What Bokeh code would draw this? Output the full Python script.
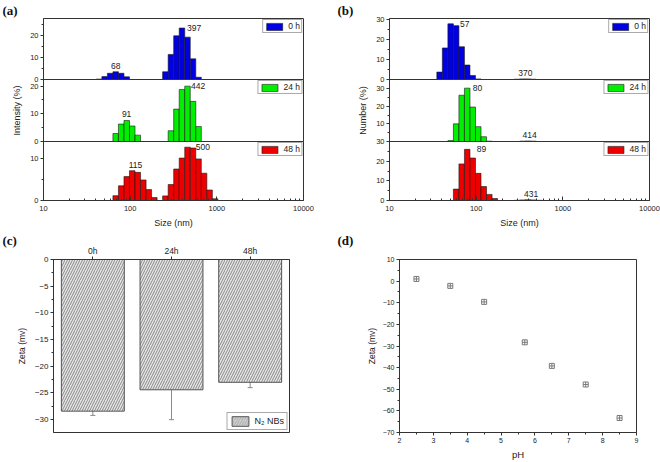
import math
from bokeh.plotting import figure
from bokeh.models import (FixedTicker, PrintfTickFormatter, Legend, LegendItem,
                          Range1d, FactorRange, Whisker, ColumnDataSource,
                          SingleIntervalTicker)
from bokeh.layouts import column, row
from bokeh.embed import file_html
from bokeh.resources import INLINE
from bokeh.core.properties import value

# ---------------- data ----------------
# (a) Intensity distributions, size classes in nm
a_0h_size = [43.82, 50.75, 58.77, 68.06, 78.82, 91.28, 255.0, 295.3, 342.0, 396.1, 458.7, 531.2, 615.1]
a_0h_val = [0.2, 1.3, 2.8, 3.5, 2.8, 1.2, 3.5, 11.3, 19.7, 23.2, 19.1, 9.3, 1.0]
a_24h_size = [68.06, 78.82, 91.28, 105.7, 122.4, 295.3, 342.0, 396.1, 458.7, 531.2, 615.1]
a_24h_val = [2.9, 6.3, 7.6, 5.6, 2.3, 3.9, 11.7, 18.8, 20.0, 14.5, 5.4]
a_48h_size = [68.06, 78.82, 91.28, 105.7, 122.4, 141.8, 164.2, 190.1,
              255.0, 295.3, 342.0, 396.1, 458.7, 531.2, 615.1, 712.4, 825.0, 955.4]
a_48h_val = [1.15, 3.5, 5.7, 7.1, 6.7, 4.9, 2.6, 0.7,
             1.1, 3.8, 7.5, 10.1, 12.7, 12.5, 9.9, 6.5, 2.5, 0.4]

# (b) Number distributions
b_0h_size = [37.84, 43.82, 50.75, 58.77, 68.06, 78.82, 91.28, 105.7, 295.3, 342.0, 396.1, 458.7]
b_0h_val = [3.7, 15.7, 27.7, 26.8, 16.3, 7.2, 2.0, 0.3, 0.15, 0.3, 0.3, 0.15]
b_24h_size = [50.75, 58.77, 68.06, 78.82, 91.28, 105.7, 122.4, 141.8, 342.0, 396.1, 458.7]
b_24h_val = [0.5, 10.0, 26.2, 30.2, 19.5, 8.4, 2.7, 0.2, 0.2, 0.3, 0.2]
b_48h_size = [58.77, 68.06, 78.82, 91.28, 105.7, 122.4, 141.8, 164.2, 295.3, 342.0, 396.1, 458.7, 531.2]
b_48h_val = [5.8, 18.6, 26.0, 21.6, 13.8, 7.1, 3.1, 1.0, 0.1, 0.3, 0.4, 0.3, 0.1]

# peak labels
a_0h_peaks = [68, 397]
a_24h_peaks = [91, 442]
a_48h_peaks = [115, 500]
b_0h_peaks = [57, 370]
b_24h_peaks = [80, 414]
b_48h_peaks = [89, 431]
a_peak_side = ["above", "right"]
b_peak_side = ["right", "above"]

times = ["0 h", "24 h", "48 h"]
x_major = [10, 100, 1000, 10000]
panel_tags = ["(a)", "(b)", "(c)", "(d)"]

# (c) zeta vs time
c_cats = ["0h", "24h", "48h"]
c_zeta = [-28.4, -24.4, -23.0]
c_err = [0.8, 5.6, 1.0]

# (d) zeta vs pH
d_ph = [2.5, 3.5, 4.5, 5.7, 6.5, 7.5, 8.5]
d_zeta = [1.0, -2.2, -9.6, -28.3, -39.2, -47.8, -63.3]

# ---------------- styling helpers ----------------
FONT = "Liberation Sans"
AX = "#333333"
TXT = "#222222"
BIN_RATIO = 1.158
COLORS = ["#0000e0", "#00ee00", "#ee0000"]
COLW = 330


def style_axis(ax, size="7.5px"):
    ax.axis_line_color = AX
    ax.major_tick_line_color = AX
    ax.minor_tick_line_color = AX
    ax.major_label_text_font = FONT
    ax.major_label_text_font_size = size
    ax.major_label_text_color = TXT
    ax.axis_label_text_font = FONT
    ax.axis_label_text_font_style = "normal"
    ax.axis_label_text_color = TXT


def clear(p):
    p.background_fill_color = None
    p.border_fill_color = None
    p.outline_line_color = AX
    p.grid.visible = False


def tag_strip(left_tag, right_tag, dy, h=18):
    p = figure(width=2 * COLW, height=h, x_range=Range1d(0, 1), y_range=Range1d(0, 1),
               x_axis_location=None, y_axis_location=None,
               output_backend="svg", toolbar_location=None, min_border=0)
    clear(p)
    p.outline_line_color = None
    p.text(x=[0, 0.5], y=[1, 1], text=[left_tag, right_tag], text_align="left",
           text_baseline="top", x_offset=[2, 7], y_offset=dy,
           text_font=value("Liberation Serif"), text_font_style="bold",
           text_font_size="13px", text_color="#111111")
    return p


def hist(sizes, vals, color, tag, peaks, sides, ymax, ticks, minor,
         bl, br, bt, fh, bb, ylabel=None, xlabel=None):
    p = figure(width=COLW, height=bt + fh + bb, x_axis_type="log",
               x_range=Range1d(10, 10000), y_range=Range1d(0, ymax),
               x_axis_location="below" if xlabel else None,
               output_backend="svg", toolbar_location=None,
               min_border_left=bl, min_border_right=br,
               min_border_top=bt, min_border_bottom=bb)
    clear(p)
    half = math.sqrt(BIN_RATIO)
    src = ColumnDataSource(dict(left=[s / half for s in sizes],
                                right=[s * half for s in sizes], top=vals))
    r = p.quad(left="left", right="right", bottom=0, top="top", source=src,
               fill_color=color, line_color="#1a1a1a", line_width=0.6)

    for pk, side in zip(peaks, sides):
        h = max(v for s, v in zip(sizes, vals) if pk / 2 <= s <= pk * 2)
        if side == "above":
            p.text(x=[pk], y=[h], text=[str(pk)], text_align="center",
                   text_baseline="bottom", y_offset=-3,
                   text_font=value(FONT), text_font_size="8.5px", text_color=TXT)
        else:
            p.text(x=[pk], y=[h], text=[str(pk)], text_align="left",
                   text_baseline="middle", x_offset=5,
                   text_font=value(FONT), text_font_size="8.5px", text_color=TXT)

    leg = Legend(items=[LegendItem(label=tag, renderers=[r])], location="top_right",
                 glyph_width=20, glyph_height=9, label_height=9, label_width=10,
                 padding=1, margin=1, spacing=0, label_standoff=4,
                 label_text_font=FONT, label_text_font_size="8.5px",
                 label_text_color=TXT, border_line_color="#555555",
                 background_fill_color="white", background_fill_alpha=1)
    p.add_layout(leg)

    yax = p.yaxis[0]
    yax.ticker = FixedTicker(ticks=ticks, minor_ticks=minor)
    style_axis(yax)
    yax.major_tick_in = 0
    yax.major_tick_out = 3
    yax.minor_tick_in = 0
    yax.minor_tick_out = 2
    yax.major_label_standoff = 2
    if ylabel:
        yax.axis_label = ylabel
        yax.axis_label_text_font_size = "9px"
        yax.axis_label_standoff = 5
    if xlabel:
        xax = p.xaxis[0]
        minors = [m * d for d in x_major[:-1] for m in range(2, 10)]
        xax.ticker = FixedTicker(ticks=x_major, minor_ticks=minors)
        xax.formatter = PrintfTickFormatter(format="%d")
        style_axis(xax)
        xax.major_tick_in = 4
        xax.major_tick_out = 0
        xax.minor_tick_in = 2
        xax.minor_tick_out = 0
        xax.major_label_standoff = 5
        xax.axis_label = xlabel
        xax.axis_label_text_font_size = "9px"
        xax.axis_label_standoff = 4
    return p


# ---------------- (a) ----------------
a0 = hist(a_0h_size, a_0h_val, COLORS[0], times[0], a_0h_peaks, a_peak_side, 27.5,
          [0, 10, 20], [5, 15, 25], 43, 27, 18, 61, 5)
a1 = hist(a_24h_size, a_24h_val, COLORS[1], times[1], a_24h_peaks, a_peak_side, 22.4,
          [0, 10, 20], [5, 15], 43, 27, 5, 62, 5, ylabel="Intensity (%)")
a2 = hist(a_48h_size, a_48h_val, COLORS[2], times[2], a_48h_peaks, a_peak_side, 14.05,
          [0, 10], [5], 43, 27, 5, 61, 28, xlabel="Size (nm)")
a1.margin = (-10, 0, 0, 0)
a2.margin = (-10, 0, 0, 0)

# ---------------- (b) ----------------
b0 = hist(b_0h_size, b_0h_val, COLORS[0], times[0], b_0h_peaks, b_peak_side, 30.35,
          [0, 10, 20, 30], [5, 15, 25], 59, 11, 18, 61, 5)
b1 = hist(b_24h_size, b_24h_val, COLORS[1], times[1], b_24h_peaks, b_peak_side, 35.1,
          [10, 20, 30], [5, 15, 25], 59, 11, 5, 62, 5, ylabel="Number (%)")
b2 = hist(b_48h_size, b_48h_val, COLORS[2], times[2], b_48h_peaks, b_peak_side, 30.0,
          [0, 10, 20, 30], [5, 15, 25], 59, 11, 5, 61, 28, xlabel="Size (nm)")
b1.margin = (-10, 0, 0, 0)
b2.margin = (-10, 0, 0, 0)

# ---------------- (c) ----------------
c = figure(width=COLW, height=232, x_range=FactorRange(factors=c_cats, range_padding=0),
           y_range=Range1d(-32.4, 0), x_axis_location="above",
           output_backend="svg", toolbar_location=None,
           min_border_left=53, min_border_right=41, min_border_top=29, min_border_bottom=28)
clear(c)
csrc = ColumnDataSource(dict(t=c_cats, z=c_zeta,
                             up=[z + e for z, e in zip(c_zeta, c_err)],
                             lo=[z - e for z, e in zip(c_zeta, c_err)]))
cb = c.vbar(x="t", top=0, bottom="z", width=0.8, source=csrc,
            fill_color="#e6e6e6", line_color="#555555", line_width=1,
            hatch_pattern="right_diagonal_line", hatch_color="#707070",
            hatch_scale=5, hatch_weight=0.8)
wh = Whisker(base="t", upper="up", lower="lo", source=csrc,
             line_color="#8a8a8a", line_width=1)
wh.upper_head.size = 5
wh.lower_head.size = 5
wh.upper_head.line_color = "#8a8a8a"
wh.lower_head.line_color = "#8a8a8a"
c.add_layout(wh)
cleg = Legend(items=[LegendItem(label="N\u2082 NBs", renderers=[cb])], location="bottom_right",
              glyph_width=21, glyph_height=12, label_height=12, padding=2, margin=2,
              spacing=0, label_standoff=4, label_text_font=FONT,
              label_text_font_size="9px", label_text_color=TXT,
              border_line_color="#555555", background_fill_color="white")
c.add_layout(cleg)
cx = c.xaxis[0]
style_axis(cx, "8.5px")
cx.major_tick_out = 3
cx.major_tick_in = 0
cx.major_label_standoff = 1
cy = c.yaxis[0]
cy.ticker = SingleIntervalTicker(interval=5, num_minor_ticks=2)
style_axis(cy, "8px")
cy.major_tick_out = 3
cy.major_tick_in = 0
cy.minor_tick_out = 2
cy.minor_tick_in = 0
cy.major_label_standoff = 2
cy.axis_label = "Zeta (mv)"
cy.axis_label_text_font_size = "8.5px"
cy.axis_label_standoff = 5

# ---------------- (d) ----------------
d = figure(width=COLW, height=232, x_range=Range1d(2, 9), y_range=Range1d(-70, 10),
           output_backend="svg", toolbar_location=None,
           min_border_left=69, min_border_right=24, min_border_top=29, min_border_bottom=28)
clear(d)
d.scatter(d_ph, d_zeta, marker="square_cross", size=5, line_color="#7a7a7a",
          fill_color=None, line_width=1)
dx = d.xaxis[0]
dx.ticker = SingleIntervalTicker(interval=1, num_minor_ticks=2)
style_axis(dx, "7px")
dx.major_tick_out = 3
dx.major_tick_in = 0
dx.minor_tick_out = 2
dx.minor_tick_in = 0
dx.major_label_standoff = 2
dx.axis_label = "pH"
dx.axis_label_text_font_size = "9.5px"
dx.axis_label_standoff = 3
dy = d.yaxis[0]
dy.ticker = SingleIntervalTicker(interval=10, num_minor_ticks=2)
style_axis(dy, "7px")
dy.major_tick_out = 3
dy.major_tick_in = 0
dy.minor_tick_out = 2
dy.minor_tick_in = 0
dy.major_label_standoff = 2
dy.axis_label = "Zeta (mv)"
dy.axis_label_text_font_size = "8.5px"
dy.axis_label_standoff = 3

# ---------------- layout ----------------
strip_top = tag_strip(panel_tags[0], panel_tags[1], 2)
strip_bottom = tag_strip(panel_tags[2], panel_tags[3], 2)
top_row = row(column(a0, a1, a2), column(b0, b1, b2))
bottom_row = row(c, d)
top_row.margin = (-18, 0, 0, 0)
bottom_row.margin = (-18, 0, 0, 0)
layout = column(strip_top, top_row, strip_bottom, bottom_row)
open("out.html", "w").write(file_html(layout, INLINE))
